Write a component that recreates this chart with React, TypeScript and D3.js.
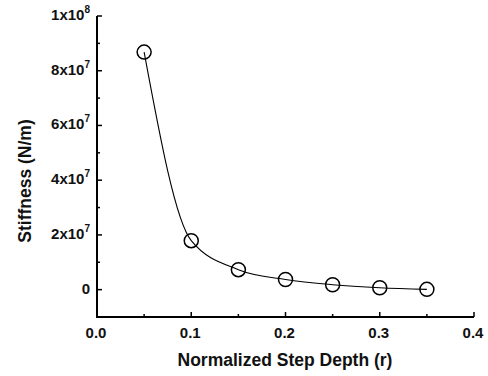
import React from "react";
import * as d3 from "d3";

const depths = [0.05, 0.1, 0.15, 0.2, 0.25, 0.3, 0.35];
const stiffness = [8.68e7, 1.79e7, 0.73e7, 0.37e7, 0.18e7, 0.07e7, 0.01e7];
const xTicks = [0, 0.1, 0.2, 0.3, 0.4];
const xMinor = [0.05, 0.15, 0.25, 0.35];
const yTicks = [0, 2e7, 4e7, 6e7, 8e7, 1e8];
const yMinor = [-1e7, 1e7, 3e7, 5e7, 7e7, 9e7];
const yTickLabels: [string, string][] = [["0", ""], ["2x10", "7"], ["4x10", "7"], ["6x10", "7"], ["8x10", "7"], ["1x10", "8"]];

export default function App() {
  const W = 488, H = 376;
  const x = d3.scaleLinear().domain([0, 0.4]).range([97, 474]);
  const y = d3.scaleLinear().domain([-1e7, 1e8]).range([317, 16]);
  const pts = depths.map((d, i) => [x(d), y(stiffness[i])] as [number, number]);
  const line = d3.line().curve(d3.curveMonotoneX)(pts) || "";
  const font = "'Liberation Sans', Arial, sans-serif";
  return (
    <svg width={W} height={H} style={{ position: "absolute", left: 0, top: 0, background: "#fff" }} fontFamily={font}>
      <rect width={W} height={H} fill="#fff" />
      <line x1={x(0)} x2={x(0)} y1={y(1e8)} y2={y(-1e7) + 1} stroke="#000" strokeWidth={2} />
      <line x1={x(0) - 1} x2={x(0.4)} y1={y(-1e7)} y2={y(-1e7)} stroke="#000" strokeWidth={2} />
      {yTicks.map((t) => (
        <line key={"ym" + t} x1={x(0)} x2={x(0) + 5} y1={y(t)} y2={y(t)} stroke="#000" strokeWidth={1.5} />
      ))}
      {yMinor.map((t) => (
        <line key={"yn" + t} x1={x(0)} x2={x(0) + 3} y1={y(t)} y2={y(t)} stroke="#000" strokeWidth={1.5} />
      ))}
      {xTicks.map((t) => (
        <line key={"xm" + t} x1={x(t)} x2={x(t)} y1={y(-1e7)} y2={y(-1e7) - 5} stroke="#000" strokeWidth={1.5} />
      ))}
      {xMinor.map((t) => (
        <line key={"xn" + t} x1={x(t)} x2={x(t)} y1={y(-1e7)} y2={y(-1e7) - 3} stroke="#000" strokeWidth={1.5} />
      ))}
      {yTicks.map((t, i) => (
        <text key={"yl" + t} x={90} y={y(t) + 4} textAnchor="end" fontSize={15} fontWeight="bold" fill="#111">
          {yTickLabels[i][0]}
          {yTickLabels[i][1] && (
            <tspan fontSize={10} dy={-7}>{yTickLabels[i][1]}</tspan>
          )}
        </text>
      ))}
      {xTicks.map((t) => (
        <text key={"xl" + t} x={x(t) - 1} y={338} textAnchor="middle" fontSize={15} fontWeight="bold" fill="#111">
          {t.toFixed(1)}
        </text>
      ))}
      <text x={285} y={366} textAnchor="middle" fontSize={17.5} fontWeight="bold" fill="#111">
        Normalized Step Depth (r)
      </text>
      <text transform={`translate(31,181) rotate(-90)`} textAnchor="middle" fontSize={17.5} fontWeight="bold" fill="#111">
        Stiffness (N/m)
      </text>
      <path d={line} fill="none" stroke="#000" strokeWidth={1.1} />
      {pts.map((p, i) => (
        <circle key={i} cx={p[0]} cy={p[1]} r={7} fill="none" stroke="#000" strokeWidth={1.5} />
      ))}
    </svg>
  );
}
